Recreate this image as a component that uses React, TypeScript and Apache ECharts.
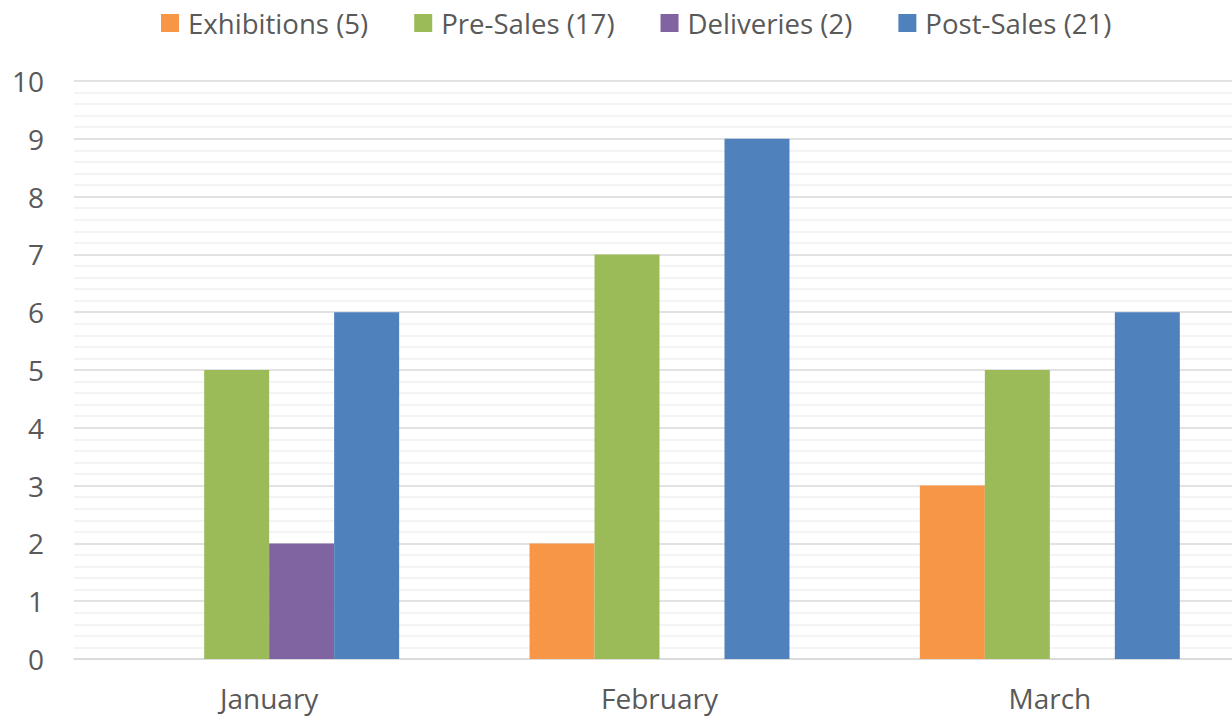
import React, { useEffect, useRef } from "react";
import * as echarts from "echarts";

const categories = ["January", "February", "March"];
const seriesNames = ["Exhibitions", "Pre-Sales", "Deliveries", "Post-Sales"];
const exhibitions = [0, 2, 3];
const preSales = [5, 7, 5];
const deliveries = [2, 0, 0];
const postSales = [6, 9, 6];
const colors = ["#F79646", "#9BBB59", "#8064A2", "#4F81BD"];

const FONT = "'Open Sans', sans-serif";

export default function App() {
  const ref = useRef<HTMLDivElement>(null);
  useEffect(() => {
    if (!ref.current) return;
    const chart = echarts.init(ref.current, undefined, { renderer: "svg" });
    const data = [exhibitions, preSales, deliveries, postSales];
    const sum = (a: number[]) => a.reduce((s, v) => s + v, 0);
    chart.setOption({
      animation: false,
      textStyle: { fontFamily: FONT },
      legend: {
        top: 9,
        left: 161,
        padding: 0,
        itemWidth: 18,
        itemHeight: 18,
        itemGap: 46,
        icon: "rect",
        textStyle: { fontSize: 27.6, color: "#595959", fontFamily: FONT, padding: [0, 0, 0, 4] },
      },
      grid: { left: 74, right: 0, top: 81, bottom: 59, containLabel: false },
      xAxis: {
        type: "category",
        data: categories,
        axisTick: { show: false },
        axisLine: { lineStyle: { color: "#d9d9d9", width: 1.5 } },
        axisLabel: { fontSize: 28, color: "#595959", margin: 25, fontFamily: FONT },
      },
      yAxis: {
        type: "value",
        min: 0,
        max: 10,
        interval: 1,
        axisLabel: { fontSize: 28, color: "#595959", margin: 30, fontFamily: FONT },
        axisLine: { show: false },
        axisTick: { show: false },
        splitLine: { lineStyle: { color: "#d9d9d9", width: 1.5 } },
        minorTick: { show: false, splitNumber: 5 },
        minorSplitLine: { show: true, lineStyle: { color: "#f0f0f0", width: 1.5 } },
      },
      series: seriesNames.map((n, i) => ({
        name: `${n} (${sum(data[i])})`,
        type: "bar",
        data: data[i],
        itemStyle: { color: colors[i] },
        barGap: "0%",
        barCategoryGap: "33.4%",
      })),
    });
    return () => chart.dispose();
  }, []);
  return (
    <div
      ref={ref}
      style={{ position: "fixed", left: 0, top: 0, width: 1245, height: 718, background: "#fff" }}
    />
  );
}
